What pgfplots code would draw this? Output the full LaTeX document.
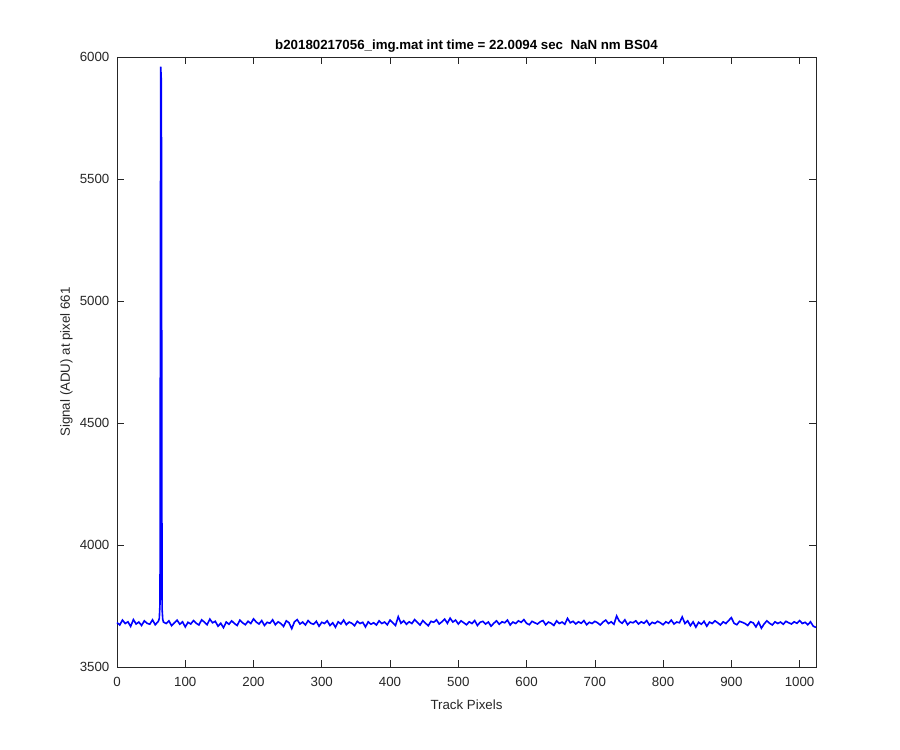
\documentclass[border=0pt]{standalone}
\usepackage{pgfplots}
\pgfplotsset{compat=1.18}
\usepackage{fontspec}
\setmainfont{Liberation Sans}
\definecolor{axgray}{gray}{0.15}
\begin{document}
\fontsize{13.3}{16}\selectfont
\begin{tikzpicture}
\begin{axis}[
  scale only axis,
  width=699pt, height=610pt,
  xmin=0, xmax=1024, ymin=3500, ymax=6000,
  xtick={0,100,...,1000}, ytick={3500,4000,...,6000},
  tick align=inside,
  major tick length=7pt,
  tick style={axgray, line width=0.6pt},
  axis line style={axgray, line width=0.6pt},
  every tick label/.append style={text=axgray, font=\fontsize{13.3}{16}\selectfont},
  xticklabel style={yshift=-6pt},
  yticklabel style={xshift=-3pt},
  /pgf/number format/1000 sep={},
  /pgf/number format/assume math mode=true,
  xlabel={Track Pixels},
  ylabel={Signal (ADU) at pixel 661},
  label style={text=axgray, font=\fontsize{13.3}{16}\selectfont},
  xlabel style={yshift=-4pt},
  ylabel style={yshift=-2pt},
  title={b20180217056\_img.mat int time = 22.0094 sec\ \ NaN nm BS04},
  title style={font=\bfseries\fontsize{13.3}{16}\selectfont, yshift=-6pt},
  clip=false,
]
\path (rel axis cs:-0.1674,-0.1361) rectangle (rel axis cs:1.1202,1.0934);
\addplot[blue, line width=1.6pt] table {
x y
0 3682
4 3672
8 3692
12 3678
16 3685
20 3666
24 3694
28 3676
32 3684
36 3670
40 3689
44 3679
48 3675
52 3693
56 3673
60 3685
61 3690
62 3700
63 3760
64 5960
65 5900
66 3740
67 3695
68 3684
72 3678
76 3689
80 3669
84 3681
88 3692
92 3675
96 3685
100 3664
104 3683
108 3676
112 3690
116 3679
120 3672
124 3693
128 3684
132 3673
136 3696
140 3681
144 3687
148 3667
152 3679
156 3661
160 3684
164 3675
168 3689
172 3678
176 3670
180 3692
184 3681
188 3673
192 3687
196 3678
200 3697
204 3684
208 3676
212 3690
216 3670
220 3683
224 3679
228 3693
232 3673
236 3685
240 3678
244 3666
248 3689
252 3681
256 3657
260 3685
264 3694
268 3676
272 3684
276 3672
280 3690
284 3679
288 3675
292 3687
296 3667
300 3683
304 3678
308 3689
312 3670
316 3681
320 3663
324 3685
328 3676
332 3692
336 3673
340 3684
344 3679
348 3669
352 3687
356 3678
360 3683
364 3664
368 3685
372 3675
376 3681
380 3672
384 3689
388 3678
392 3684
396 3673
400 3692
404 3681
408 3670
412 3706
416 3679
420 3689
424 3675
428 3685
432 3678
436 3694
440 3683
444 3672
448 3690
452 3679
456 3669
460 3687
464 3683
468 3693
472 3676
476 3685
480 3696
484 3679
488 3700
492 3684
496 3692
500 3676
504 3689
508 3681
512 3673
516 3685
520 3678
524 3690
528 3670
532 3683
536 3687
540 3676
544 3684
548 3667
552 3679
556 3689
560 3675
564 3685
568 3681
572 3692
576 3672
580 3684
584 3678
588 3689
592 3683
596 3694
600 3679
604 3673
608 3687
612 3681
616 3676
620 3685
624 3690
628 3673
632 3684
636 3679
640 3670
644 3689
648 3678
652 3684
656 3675
660 3699
664 3681
668 3687
672 3676
676 3685
680 3679
684 3690
688 3673
692 3683
696 3678
700 3687
704 3681
708 3672
712 3684
716 3692
720 3678
724 3685
728 3675
732 3709
736 3687
740 3679
744 3693
748 3673
752 3684
756 3681
760 3689
764 3676
768 3685
772 3679
776 3690
780 3672
784 3683
788 3678
792 3687
796 3681
800 3673
804 3685
808 3679
812 3692
816 3676
820 3684
824 3681
828 3705
832 3678
836 3689
840 3669
844 3685
848 3663
852 3683
856 3675
860 3687
864 3667
868 3684
872 3678
876 3689
880 3681
884 3672
888 3685
892 3678
896 3690
900 3702
904 3679
908 3673
912 3687
916 3683
920 3678
924 3670
928 3685
932 3681
936 3664
940 3684
944 3659
948 3676
952 3689
956 3679
960 3672
964 3685
968 3678
972 3684
976 3675
980 3687
984 3681
988 3676
992 3685
996 3679
1000 3690
1004 3678
1008 3683
1012 3673
1016 3685
1020 3667
1024 3662
};
\end{axis}
\end{tikzpicture}
\end{document}
